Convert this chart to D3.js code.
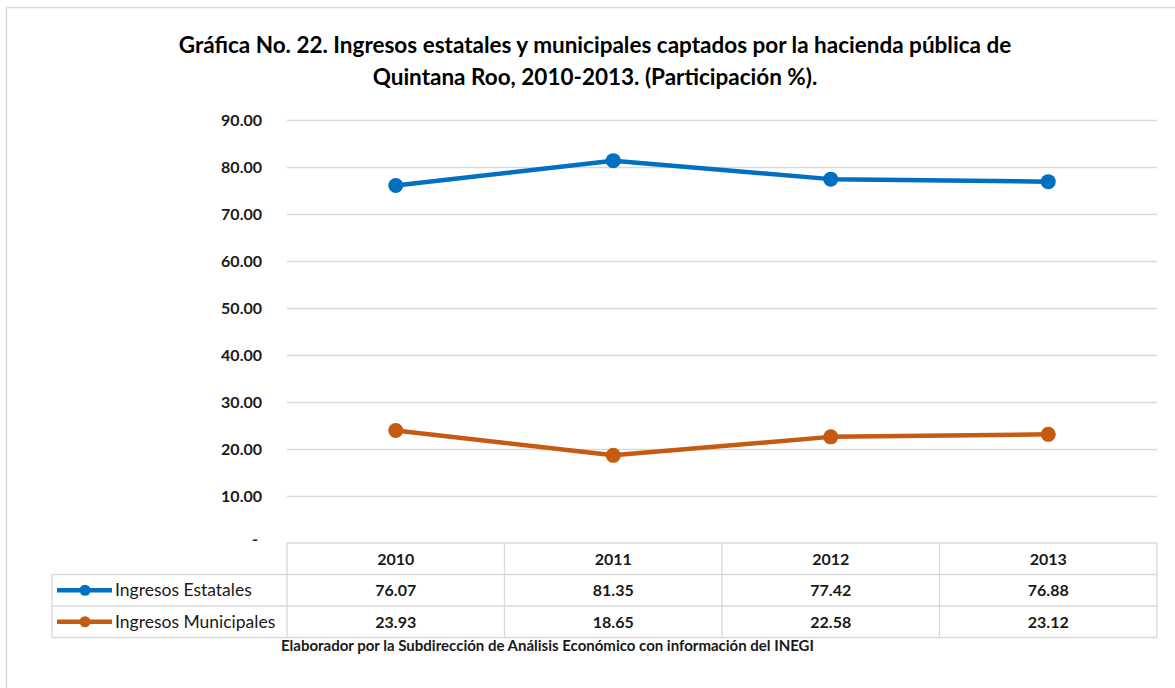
<!DOCTYPE html>
<html>
<head>
<meta charset="utf-8">
<script src="https://cdn.jsdelivr.net/npm/d3@7"></script>
<style>
  body { margin: 0; background: #fff; }
  svg { display: block; font-family: Lato, "Open Sans", sans-serif; }
</style>
</head>
<body>
<svg id="chart" width="1175" height="688"></svg>
<script>
var years = ["2010", "2011", "2012", "2013"];
var seriesNames = ["Ingresos Estatales", "Ingresos Municipales"];
var estatales = [76.07, 81.35, 77.42, 76.88];
var municipales = [23.93, 18.65, 22.58, 23.12];
var yTicks = [0, 10, 20, 30, 40, 50, 60, 70, 80, 90];
var colors = ["#0070C0", "#C55A11"];

var series = [estatales, municipales];

var svg = d3.select("#chart");

// outer frame
svg.append("path")
    .attr("d", "M6.5,688 L6.5,7.5 L1175,7.5")
    .attr("fill", "none")
    .attr("stroke", "#d9d9d9")
    .attr("stroke-width", 1.5);

// title
var title = svg.append("text")
    .attr("text-anchor", "middle")
    .attr("font-weight", "bold")
    .attr("font-size", 22.5)
    .attr("fill", "#000");
title.append("tspan").attr("x", 595).attr("y", 53)
    .text("Gráfica No. 22. Ingresos estatales y municipales captados por la hacienda pública de");
title.append("tspan").attr("x", 595).attr("y", 85)
    .text("Quintana Roo, 2010-2013. (Participación %).");

var plotLeft = 287, plotRight = 1157, plotTop = 120, plotBottom = 543;

var x = d3.scaleBand().domain(years).range([plotLeft, plotRight]);
var y = d3.scaleLinear().domain([0, 90]).range([plotBottom, plotTop]);

// gridlines
svg.append("g").selectAll("line")
    .data(yTicks.filter(function(d) { return d > 0; }))
    .join("line")
    .attr("x1", plotLeft).attr("x2", plotRight)
    .attr("y1", function(d) { return Math.round(y(d)) + 0.5; })
    .attr("y2", function(d) { return Math.round(y(d)) + 0.5; })
    .attr("stroke", "#d9d9d9")
    .attr("stroke-width", 1.3);

// y axis labels
var yAxis = svg.append("g")
    .attr("transform", "translate(" + (plotLeft - 25) + ",0)")
    .call(d3.axisLeft(y).tickValues(yTicks).tickSize(0).tickPadding(0)
        .tickFormat(function(d) { return d === 0 ? "-" : d3.format(".2f")(d); }));
yAxis.select(".domain").remove();
yAxis.selectAll("text")
    .attr("font-family", "Lato, 'Open Sans', sans-serif")
    .attr("font-size", 16)
    .attr("font-weight", "bold")
    .attr("fill", "#1a1a1a")
    .attr("dx", function(d) { return d === 0 ? -4 : 0; })
    .attr("dy", function(d) { return d === 0 ? "0.1em" : "0.32em"; });

// lines and markers
var line = d3.line()
    .x(function(d, i) { return x(years[i]) + x.bandwidth() / 2; })
    .y(function(d) { return y(d); });

series.forEach(function(s, k) {
    svg.append("path")
        .datum(s)
        .attr("d", line)
        .attr("fill", "none")
        .attr("stroke", colors[k])
        .attr("stroke-width", 4.5)
        .attr("stroke-linejoin", "round");
    svg.append("g").selectAll("circle")
        .data(s)
        .join("circle")
        .attr("cx", function(d, i) { return x(years[i]) + x.bandwidth() / 2; })
        .attr("cy", function(d) { return y(d); })
        .attr("r", 7.5)
        .attr("fill", colors[k]);
});

// data table
var tableLeft = 52, rowH = 31.5;
var rows = [plotBottom, plotBottom + rowH, plotBottom + 2 * rowH, plotBottom + 3 * rowH];
var tbl = svg.append("g")
    .attr("stroke", "#d9d9d9")
    .attr("stroke-width", 1.3)
    .attr("fill", "none");

tbl.append("line").attr("x1", plotLeft).attr("x2", plotRight).attr("y1", rows[0]).attr("y2", rows[0]);
[1, 2, 3].forEach(function(r) {
    tbl.append("line").attr("x1", tableLeft).attr("x2", plotRight).attr("y1", rows[r]).attr("y2", rows[r]);
});
tbl.append("line").attr("x1", tableLeft).attr("x2", tableLeft).attr("y1", rows[1]).attr("y2", rows[3]);
years.forEach(function(yr) {
    tbl.append("line").attr("x1", x(yr)).attr("x2", x(yr)).attr("y1", rows[0]).attr("y2", rows[3]);
});
tbl.append("line").attr("x1", plotRight).attr("x2", plotRight).attr("y1", rows[0]).attr("y2", rows[3]);

var cellText = svg.append("g")
    .attr("font-size", 16)
    .attr("font-weight", "bold")
    .attr("fill", "#1a1a1a")
    .attr("text-anchor", "middle");

years.forEach(function(yr, i) {
    var cx = x(yr) + x.bandwidth() / 2;
    cellText.append("text").attr("x", cx).attr("y", rows[0] + rowH / 2 + 6).text(yr);
    series.forEach(function(s, k) {
        cellText.append("text").attr("x", cx).attr("y", rows[k + 1] + rowH / 2 + 6)
            .text(d3.format(".2f")(s[i]));
    });
});

// legend keys inside table
seriesNames.forEach(function(name, k) {
    var cy = rows[k + 1] + rowH / 2;
    svg.append("line")
        .attr("x1", 57).attr("x2", 112)
        .attr("y1", cy).attr("y2", cy)
        .attr("stroke", colors[k])
        .attr("stroke-width", 4.5);
    svg.append("circle")
        .attr("cx", 85).attr("cy", cy).attr("r", 5.5)
        .attr("fill", colors[k]);
    svg.append("text")
        .attr("x", 115).attr("y", cy + 6)
        .attr("font-size", 17.5)
        .attr("fill", "#1a1a1a")
        .text(name);
});

// source note
svg.append("text")
    .attr("x", 281).attr("y", 651)
    .attr("font-size", 15)
    .attr("font-weight", "bold")
    .attr("fill", "#1a1a1a")
    .text("Elaborador por la Subdirección de Análisis Económico con información del INEGI");
</script>
</body>
</html>
